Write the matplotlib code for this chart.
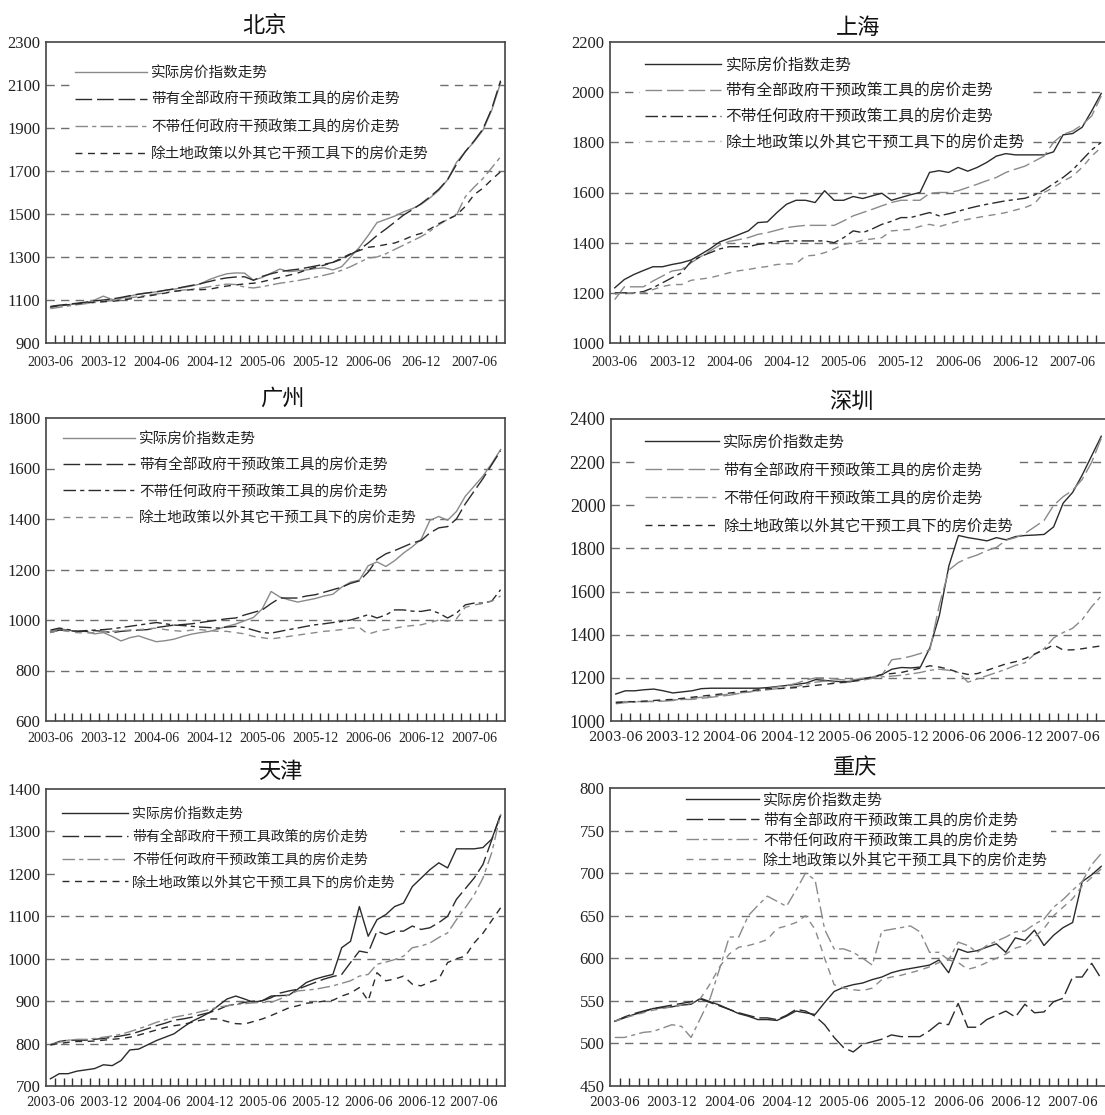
import matplotlib
matplotlib.use("Agg")
import matplotlib.pyplot as plt
import numpy as np

W, H = 1105, 1115
plt.rcParams['font.family'] = ['Noto Sans CJK SC', 'DejaVu Sans']

# ---------------- data: monthly index, 2003-06 .. 2007-09 ----------------
months = np.arange(52)

date_labels = ["2003-06", "2003-12", "2004-06", "2004-12", "2005-06",
               "2005-12", "2006-06", "2006-12", "2007-06"]
date_labels_bj = ["2003-06", "2003-12", "2004-06", "2004-12", "2005-06",
                  "2005-12", "2006-06", "206-12", "2007-06"]

series_names = ["实际房价指数走势",
                "带有全部政府干预政策工具的房价走势",
                "不带任何政府干预政策工具的房价走势",
                "除土地政策以外其它干预工具下的房价走势"]
series_names_tj = ["实际房价指数走势",
                   "带有全部政府干预工具政策的房价走势",
                   "不带任何政府干预政策工具的房价走势",
                   "除土地政策以外其它干预工具下的房价走势"]

# 北京
bj_actual = [1065, 1072, 1078, 1082, 1086, 1100, 1118, 1102, 1108, 1118, 1128, 1133, 1138,
             1145, 1150, 1158, 1165, 1175, 1195, 1210, 1222, 1226, 1225, 1192, 1205, 1225,
             1244, 1232, 1236, 1240, 1246, 1250, 1240, 1255, 1300, 1345, 1400, 1460, 1475,
             1490, 1510, 1525, 1545, 1575, 1610, 1660, 1740, 1790, 1836, 1890, 1983, 2110]
bj_all = [1070, 1076, 1080, 1085, 1090, 1096, 1100, 1105, 1112, 1120, 1127, 1133, 1138,
          1145, 1152, 1160, 1168, 1176, 1186, 1196, 1203, 1207, 1208, 1192, 1210, 1222,
          1232, 1238, 1243, 1250, 1258, 1266, 1275, 1290, 1312, 1334, 1365, 1400, 1430,
          1462, 1495, 1520, 1548, 1580, 1615, 1660, 1730, 1790, 1840, 1895, 1990, 2120]
bj_none = [1060, 1066, 1072, 1078, 1083, 1088, 1093, 1098, 1104, 1110, 1116, 1122, 1128,
           1134, 1140, 1146, 1150, 1155, 1162, 1168, 1174, 1172, 1160, 1156, 1162, 1170,
           1178, 1184, 1190, 1198, 1206, 1215, 1225, 1238, 1255, 1275, 1295, 1300, 1315,
           1335, 1355, 1375, 1395, 1420, 1450, 1475, 1495, 1580, 1625, 1665, 1715, 1766]
bj_land = [1068, 1074, 1078, 1082, 1086, 1090, 1092, 1094, 1098, 1105, 1112, 1118, 1125,
           1132, 1140, 1145, 1148, 1148, 1150, 1158, 1165, 1170, 1175, 1178, 1185, 1195,
           1205, 1215, 1225, 1240, 1252, 1262, 1275, 1295, 1315, 1330, 1345, 1350, 1358,
           1365, 1380, 1398, 1410, 1430, 1455, 1475, 1495, 1535, 1590, 1620, 1660, 1697]

# 上海
sh_actual = [1220, 1253, 1273, 1289, 1304, 1304, 1313, 1320, 1331, 1353, 1376, 1403, 1417,
             1432, 1447, 1480, 1483, 1520, 1553, 1569, 1569, 1560, 1607, 1569, 1569, 1584,
             1576, 1587, 1597, 1569, 1580, 1591, 1600, 1680, 1687, 1680, 1700, 1685, 1700,
             1720, 1745, 1755, 1750, 1750, 1750, 1750, 1762, 1830, 1835, 1860, 1925, 1995]
sh_all = [1173, 1224, 1224, 1224, 1247, 1267, 1287, 1293, 1320, 1344, 1367, 1390, 1405,
          1412, 1420, 1433, 1440, 1450, 1460, 1465, 1469, 1469, 1469, 1469, 1487, 1507,
          1520, 1533, 1547, 1560, 1569, 1569, 1569, 1597, 1600, 1600, 1607, 1620, 1633,
          1647, 1660, 1680, 1693, 1705, 1725, 1745, 1800, 1832, 1845, 1870, 1905, 1985]
sh_none = [1200, 1200, 1200, 1205, 1220, 1240, 1260, 1280, 1325, 1345, 1360, 1375, 1384,
           1384, 1384, 1393, 1398, 1403, 1407, 1407, 1407, 1407, 1407, 1400, 1420, 1447,
           1440, 1455, 1473, 1485, 1500, 1500, 1510, 1520, 1507, 1515, 1525, 1536, 1545,
           1553, 1560, 1567, 1572, 1577, 1590, 1610, 1635, 1660, 1690, 1730, 1770, 1800]
sh_land = [1195, 1200, 1200, 1200, 1213, 1225, 1233, 1233, 1250, 1255, 1260, 1270, 1280,
           1288, 1293, 1300, 1305, 1313, 1315, 1316, 1347, 1350, 1360, 1375, 1393, 1400,
           1410, 1415, 1420, 1447, 1450, 1453, 1465, 1473, 1464, 1475, 1485, 1493, 1500,
           1507, 1513, 1520, 1530, 1540, 1555, 1600, 1620, 1645, 1665, 1700, 1745, 1780]

# 广州
gz_actual = [955, 965, 960, 955, 955, 945, 950, 935, 917, 930, 937, 925, 914,
             918, 924, 935, 944, 950, 955, 964, 975, 984, 997, 1010, 1044, 1113,
             1091, 1080, 1071, 1078, 1085, 1095, 1102, 1130, 1150, 1158, 1215, 1230, 1212,
             1235, 1265, 1290, 1320, 1395, 1410, 1395, 1430, 1490, 1530, 1570, 1620, 1675]
gz_all = [950, 960, 958, 955, 955, 958, 955, 950, 955, 958, 960, 962, 970,
          975, 980, 982, 985, 990, 995, 1000, 1005, 1008, 1020, 1030, 1040, 1065,
          1087, 1087, 1087, 1095, 1100, 1110, 1120, 1130, 1145, 1155, 1190, 1240, 1262,
          1275, 1290, 1305, 1315, 1345, 1365, 1370, 1400, 1460, 1510, 1560, 1615, 1670]
gz_none = [960, 968, 962, 955, 958, 960, 962, 965, 970, 975, 980, 985, 990,
           985, 980, 978, 975, 972, 970, 968, 972, 975, 970, 960, 950, 948,
           955, 962, 968, 975, 981, 985, 990, 994, 1000, 1010, 1021, 1008, 1020,
           1040, 1040, 1035, 1034, 1040, 1027, 1008, 1027, 1060, 1067, 1067, 1075, 1120]
gz_land = [950, 960, 955, 950, 948, 950, 955, 955, 958, 960, 962, 965, 968,
           962, 958, 955, 960, 962, 958, 955, 955, 950, 945, 935, 930, 925,
           930, 935, 940, 945, 950, 955, 958, 962, 968, 970, 944, 955, 961,
           968, 974, 978, 981, 990, 1000, 995, 1005, 1050, 1060, 1065, 1075, 1095]

# 深圳
sz_actual = [1125, 1140, 1140, 1145, 1148, 1140, 1130, 1135, 1140, 1150, 1152, 1152, 1152,
             1152, 1152, 1152, 1155, 1160, 1165, 1170, 1176, 1192, 1188, 1184, 1182, 1185,
             1195, 1200, 1216, 1240, 1248, 1246, 1250, 1340, 1490, 1720, 1860, 1850, 1843,
             1835, 1850, 1840, 1855, 1860, 1862, 1865, 1900, 2010, 2060, 2140, 2230, 2320]
sz_all = [1088, 1090, 1090, 1090, 1090, 1092, 1095, 1100, 1100, 1105, 1110, 1115, 1120,
          1128, 1135, 1142, 1150, 1158, 1165, 1175, 1190, 1200, 1200, 1195, 1190, 1192,
          1198, 1205, 1215, 1284, 1290, 1300, 1313, 1330, 1540, 1700, 1735, 1755, 1770,
          1790, 1805, 1838, 1850, 1870, 1900, 1930, 2000, 2040, 2070, 2120, 2200, 2310]
sz_none = [1080, 1085, 1088, 1090, 1092, 1095, 1098, 1100, 1105, 1110, 1115, 1120, 1125,
           1130, 1135, 1140, 1145, 1150, 1155, 1160, 1170, 1180, 1185, 1180, 1178, 1182,
           1190, 1198, 1205, 1208, 1212, 1218, 1225, 1235, 1240, 1235, 1225, 1180, 1195,
           1210, 1225, 1240, 1258, 1270, 1310, 1335, 1385, 1410, 1430, 1470, 1530, 1580]
sz_land = [1085, 1088, 1090, 1092, 1095, 1098, 1100, 1105, 1110, 1115, 1120, 1125, 1130,
           1135, 1140, 1145, 1150, 1150, 1152, 1155, 1160, 1165, 1170, 1175, 1180, 1185,
           1195, 1205, 1216, 1220, 1225, 1235, 1245, 1256, 1250, 1240, 1225, 1216, 1220,
           1235, 1250, 1265, 1275, 1290, 1310, 1330, 1353, 1329, 1330, 1335, 1342, 1348]

# 天津
tj_actual = [717, 729, 729, 735, 738, 741, 750, 748, 760, 785, 787, 797, 807,
             815, 823, 838, 852, 862, 873, 889, 905, 912, 905, 897, 901, 912,
             913, 914, 928, 944, 952, 958, 963, 1026, 1041, 1123, 1053, 1092, 1104,
             1123, 1131, 1170, 1190, 1210, 1226, 1214, 1259, 1259, 1259, 1262, 1282, 1338]
tj_all = [797, 805, 808, 808, 808, 810, 812, 815, 818, 822, 828, 835, 842,
          848, 855, 858, 862, 868, 873, 880, 889, 893, 897, 900, 901, 908,
          919, 924, 928, 936, 944, 952, 958, 963, 991, 1018, 1014, 1065, 1057,
          1065, 1065, 1077, 1069, 1073, 1085, 1100, 1140, 1165, 1190, 1222, 1280, 1340]
tj_none = [797, 803, 808, 810, 810, 812, 815, 818, 822, 828, 835, 842, 850,
           856, 862, 866, 870, 875, 880, 886, 889, 892, 894, 896, 897, 897,
           905, 915, 924, 926, 928, 932, 936, 942, 948, 959, 963, 987, 992,
           998, 1006, 1026, 1030, 1037, 1050, 1061, 1092, 1120, 1150, 1190, 1250, 1340]
tj_land = [797, 800, 803, 805, 805, 806, 808, 810, 812, 815, 820, 826, 832,
           838, 842, 845, 850, 855, 858, 858, 852, 847, 846, 852, 858, 866,
           875, 884, 889, 895, 897, 900, 902, 912, 919, 932, 901, 967, 948,
           952, 959, 940, 936, 945, 952, 991, 1000, 1006, 1037, 1060, 1090, 1120]

# 重庆
cq_actual = [526, 530, 534, 537, 541, 542, 543, 545, 546, 553, 549, 545, 540,
             535, 532, 528, 528, 527, 532, 538, 536, 534, 548, 561, 566, 569,
             571, 575, 578, 583, 586, 588, 590, 592, 598, 583, 611, 607, 609,
             613, 617, 607, 624, 621, 633, 615, 627, 636, 642, 690, 698, 708]
cq_all = [526, 531, 535, 538, 541, 543, 545, 547, 549, 552, 548, 544, 540,
          536, 533, 530, 530, 528, 533, 540, 538, 532, 522, 507, 495, 490,
          499, 502, 505, 510, 508, 508, 508, 515, 524, 522, 547, 519, 519,
          528, 533, 538, 531, 546, 536, 537, 549, 553, 578, 578, 594, 576]
cq_none = [507, 507, 510, 513, 514, 518, 522, 520, 507, 530, 553, 588, 625,
           625, 650, 662, 673, 667, 661, 680, 700, 692, 634, 611, 611, 607,
           600, 592, 632, 634, 636, 638, 631, 607, 607, 598, 619, 615, 607,
           615, 620, 625, 631, 632, 640, 646, 660, 669, 680, 690, 710, 723]
cq_land = [526, 530, 533, 536, 539, 541, 543, 545, 547, 553, 570, 590, 605,
           613, 615, 618, 622, 635, 638, 642, 650, 634, 600, 569, 565, 563,
           562, 565, 575, 578, 580, 583, 586, 590, 595, 598, 595, 587, 590,
           595, 600, 605, 612, 615, 625, 635, 650, 660, 670, 685, 695, 705]

# ---------------- styling ----------------
DARK, GREY = '#2b2b2b', '#8a8a8a'
DASHES = ['-', (0, (12, 3.5)), (0, (9, 3, 3, 3)), (0, (5, 4))]

panels = [
    dict(title="北京", data=[bj_actual, bj_all, bj_none, bj_land], names=series_names,
         rect=(46, 42, 505, 343), ylim=(900, 2300), step=200, labels=date_labels_bj,
         colors=[GREY, DARK, GREY, DARK], title_xy=(265, 25),
         leg=dict(x=70, y=61, fs=10.5, hl=72, pitch=27, pad=0.35),
         xfont=('Liberation Serif', 10), xpad=9, yfont=('Liberation Serif', 12)),
    dict(title="上海", data=[sh_actual, sh_all, sh_none, sh_land], names=series_names,
         rect=(610, 42, 1106, 343), ylim=(1000, 2200), step=200, labels=date_labels,
         colors=[DARK, GREY, DARK, GREY], title_xy=(858, 27),
         leg=dict(x=640, y=51, fs=11.3, hl=76, pitch=24, pad=0.35),
         xfont=('Liberation Serif', 10), xpad=9, yfont=('Liberation Serif', 12)),
    dict(title="广州", data=[gz_actual, gz_all, gz_none, gz_land], names=series_names,
         rect=(46, 418, 505, 721), ylim=(600, 1800), step=200, labels=date_labels,
         colors=[GREY, DARK, DARK, GREY], title_xy=(282, 398),
         leg=dict(x=58, y=427, fs=10.5, hl=72, pitch=26.3, pad=0.35),
         xfont=('Liberation Serif', 10), xpad=8, yfont=('Liberation Serif', 12)),
    dict(title="深圳", data=[sz_actual, sz_all, sz_none, sz_land], names=series_names,
         rect=(611, 419, 1106, 721), ylim=(1000, 2400), step=200, labels=date_labels,
         colors=[DARK, GREY, GREY, DARK], title_xy=(851, 402),
         leg=dict(x=640, y=428, fs=11, hl=74, pitch=25.7, pad=0.35),
         xfont=('DejaVu Serif', 9.5), xpad=7, yfont=('Liberation Serif', 13)),
    dict(title="天津", data=[tj_actual, tj_all, tj_none, tj_land], names=series_names_tj,
         rect=(46, 789, 505, 1086), ylim=(700, 1400), step=100, labels=date_labels,
         colors=[DARK, DARK, GREY, DARK], title_xy=(280, 771),
         leg=dict(x=57, y=802, fs=10, hl=66, pitch=22.3, pad=0.35),
         xfont=('DejaVu Serif', 8.5), xpad=7, yfont=('Liberation Serif', 12)),
    dict(title="重庆", data=[cq_actual, cq_all, cq_none, cq_land], names=series_names,
         rect=(610, 788, 1106, 1086), ylim=(450, 800), step=50, labels=date_labels,
         colors=[DARK, DARK, GREY, GREY], title_xy=(855, 768),
         leg=dict(x=683, y=790, fs=10.8, hl=73, pitch=20.3, pad=0.2),
         xfont=('DejaVu Serif', 8.8), xpad=7, yfont=('Liberation Serif', 12)),
]

fig = plt.figure(figsize=(W / 100, H / 100), dpi=100)

for p in panels:
    l, t, r, b = p['rect']
    ax = fig.add_axes([l / W, 1 - b / H, (r - l) / W, (b - t) / H])
    lines = []
    for vals, col, ls in zip(p['data'], p['colors'], DASHES):
        ln, = ax.plot(months, vals, color=col, lw=1.0, linestyle=ls, zorder=3)
        lines.append(ln)

    lo, hi = p['ylim']
    ax.set_xlim(-0.5, len(months) - 0.5)
    ax.set_ylim(lo, hi)
    yt = np.arange(lo, hi + 1, p['step'])
    ax.set_yticks(yt)
    ax.set_yticklabels([str(v) for v in yt], fontfamily=p['yfont'][0], fontsize=p['yfont'][1])
    ax.tick_params(axis='y', length=0, pad=4, colors='#222222')

    # interior horizontal dashed reference lines
    for v in yt[1:-1]:
        ax.axhline(v, color='#6e6e6e', lw=1.0, linestyle=(0, (6, 4.5)), zorder=1)

    ax.set_xticks(np.arange(0, 49, 6))
    ax.set_xticklabels(p['labels'], fontfamily=p['xfont'][0], fontsize=p['xfont'][1])
    ax.set_xticks(np.arange(0.5, len(months) - 1, 1), minor=True)
    ax.tick_params(axis='x', which='major', length=0, pad=p['xpad'], colors='#222222')
    ax.tick_params(axis='x', which='minor', direction='in', length=6, width=1.0,
                   color='#333333')
    for s in ax.spines.values():
        s.set_color('#444444')
        s.set_linewidth(1.2)

    fig.text(p['title_xy'][0] / W, 1 - p['title_xy'][1] / H, p['title'],
             ha='center', va='center', fontsize=16, color='#111111')

    lg = p['leg']
    fpx = lg['fs'] * 100 / 72
    text_h = 0.97 * fpx
    leg = ax.legend(lines, p['names'], loc='upper left',
                    bbox_to_anchor=(lg['x'] / W, 1 - lg['y'] / H),
                    bbox_transform=fig.transFigure, borderaxespad=0,
                    fontsize=lg['fs'], frameon=True, fancybox=False,
                    framealpha=1, facecolor='white', edgecolor='none',
                    handlelength=lg['hl'] / fpx, handletextpad=4 / fpx,
                    labelspacing=max(lg['pitch'] - text_h, 0) / fpx,
                    borderpad=lg['pad'])
    # white key box hides the reference lines but sits under the data
    leg.set_zorder(2)
    for txt in leg.get_texts():
        txt.set_color('#222222')

fig.savefig("out.png", dpi=100)
